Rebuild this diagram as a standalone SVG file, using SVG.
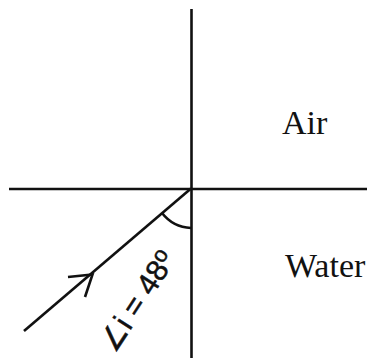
<svg xmlns="http://www.w3.org/2000/svg" width="373" height="358" viewBox="0 0 373 358">
<defs>
<style>
.ln{stroke:#111;stroke-width:2.6;fill:none}
</style>
</defs>
<rect width="373" height="358" fill="#fff"/>
<g id="axes">
<line class="ln" x1="191.5" y1="9" x2="191.5" y2="358"/>
<line class="ln" x1="9" y1="189" x2="367" y2="189"/>
</g>
<g id="connectors">
<line class="ln" x1="191" y1="188.5" x2="24" y2="331" stroke-width="3.2"/>
<path class="ln" d="M68,277 L92.5,274.5 L85,297" stroke-width="3.4"/>
<path class="ln" d="M162,213 A39,39 0 0 0 191,228" stroke-width="2.4"/>
</g>
<g id="label-air"><text x="282" y="134" style="font-family:'Liberation Serif',serif;font-size:34px;fill:#111">Air</text></g>
<g id="label-water"><text x="285" y="277" style="font-family:'Liberation Serif',serif;font-size:34px;fill:#111">Water</text></g>
<g id="label-angle"><text transform="translate(115,354) rotate(-57)" style="font-family:'Liberation Sans',sans-serif;font-size:30px;fill:#111;stroke:#111;stroke-width:0.5">∠i = 48<tspan style="font-size:22px" dy="-9">o</tspan></text></g>
</svg>
